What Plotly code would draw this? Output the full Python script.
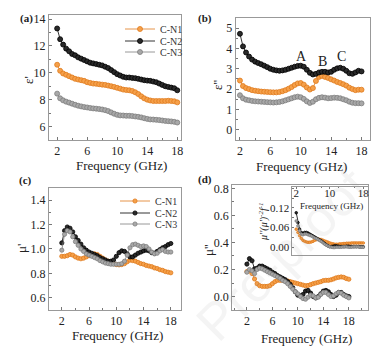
import plotly.graph_objects as go

# ---------------- data ----------------
freq = [2.0, 2.4, 2.8, 3.2, 3.6, 4.0, 4.4, 4.8, 5.2, 5.6, 6.0, 6.4, 6.8, 7.2, 7.6, 8.0,
        8.4, 8.8, 9.2, 9.6, 10.0, 10.4, 10.8, 11.2, 11.6, 12.0, 12.4, 12.8, 13.2, 13.6,
        14.0, 14.4, 14.8, 15.2, 15.6, 16.0, 16.4, 16.8, 17.2, 17.6, 18.0]

series_names = ["C-N1", "C-N2", "C-N3"]

eps1_n1 = [10.6, 10.15, 9.95, 9.85, 9.75, 9.65, 9.55, 9.5, 9.45, 9.4, 9.3, 9.25, 9.2, 9.18, 9.15,
           9.12, 9.1, 9.05, 9.0, 8.95, 8.88, 8.82, 8.75, 8.72, 8.7, 8.65, 8.55, 8.42, 8.25, 8.1,
           8.0, 7.94, 7.9, 7.9, 7.9, 7.9, 7.9, 7.92, 7.9, 7.88, 7.8]
eps1_n2 = [13.3, 12.5, 12.1, 11.8, 11.6, 11.4, 11.3, 11.15, 11.05, 10.95, 10.85, 10.75, 10.7,
           10.65, 10.6, 10.55, 10.45, 10.35, 10.2, 10.05, 9.9, 9.8, 9.7, 9.65, 9.65, 9.62, 9.6,
           9.55, 9.5, 9.45, 9.42, 9.4, 9.35, 9.3, 9.2, 9.1, 9.0, 8.95, 8.9, 8.85, 8.7]
eps1_n3 = [8.45, 8.1, 7.95, 7.85, 7.78, 7.7, 7.62, 7.55, 7.5, 7.45, 7.42, 7.38, 7.35, 7.33, 7.3,
           7.27, 7.22, 7.15, 7.05, 6.95, 6.87, 6.83, 6.82, 6.8, 6.8, 6.78, 6.75, 6.72, 6.68, 6.62,
           6.57, 6.53, 6.52, 6.5, 6.48, 6.45, 6.42, 6.4, 6.38, 6.35, 6.3]

eps2_n1 = [2.42, 2.15, 2.05, 2.0, 1.95, 1.92, 1.9, 1.88, 1.87, 1.86, 1.85, 1.84, 1.84, 1.86, 1.9,
           1.95, 2.02, 2.1, 2.2, 2.28, 2.3, 2.22, 2.08, 1.98, 2.05, 2.4, 2.6, 2.65, 2.6, 2.55,
           2.48, 2.42, 2.35, 2.3, 2.24, 2.17, 2.07, 2.0, 1.95, 1.97, 1.97]
eps2_n2 = [4.72, 4.1, 3.8, 3.6, 3.45, 3.35, 3.28, 3.22, 3.15, 3.08, 3.0, 2.95, 2.92, 2.9, 2.92,
           2.95, 3.0, 3.05, 3.1, 3.14, 3.15, 3.1, 2.95, 2.8, 2.72, 2.75, 2.82, 2.85, 2.85, 2.82,
           2.85, 2.95, 3.02, 3.05, 3.0, 2.9, 2.78, 2.75, 2.82, 2.9, 2.87]
eps2_n3 = [1.7, 1.55, 1.48, 1.45, 1.42, 1.4, 1.39, 1.38, 1.37, 1.36, 1.35, 1.34, 1.35, 1.37, 1.4,
           1.45, 1.5, 1.55, 1.6, 1.63, 1.6, 1.52, 1.4, 1.32, 1.38, 1.5, 1.57, 1.6, 1.58, 1.55,
           1.56, 1.58, 1.57, 1.55, 1.5, 1.45, 1.38, 1.33, 1.31, 1.31, 1.3]

mu1_n1 = [0.94, 0.94, 0.945, 0.955, 0.95, 0.935, 0.925, 0.92, 0.925, 0.935, 0.945, 0.955, 0.96,
          0.955, 0.94, 0.925, 0.91, 0.9, 0.89, 0.88, 0.872, 0.87, 0.872, 0.88, 0.895, 0.908,
          0.905, 0.9, 0.89, 0.88, 0.875, 0.865, 0.86, 0.855, 0.845, 0.84, 0.83, 0.825, 0.815,
          0.81, 0.805]
mu1_n2 = [1.05, 1.15, 1.18, 1.17, 1.14, 1.1, 1.07, 1.04, 1.01, 0.99, 0.975, 0.965, 0.955, 0.945,
          0.93, 0.92, 0.91, 0.9, 0.9, 0.91, 0.94, 0.97, 0.985, 0.98, 0.96, 0.935, 0.935, 0.95,
          0.965, 0.975, 0.985, 0.99, 0.985, 0.97, 0.965, 0.98, 0.995, 1.01, 1.02, 1.035, 1.045]
mu1_n3 = [0.99, 1.12, 1.15, 1.14, 1.1, 1.06, 1.03, 1.0, 0.98, 0.96, 0.95, 0.94, 0.93, 0.92, 0.905,
          0.895, 0.885, 0.88, 0.875, 0.875, 0.875, 0.875, 0.88, 0.9, 0.95, 1.01, 1.035, 1.04,
          1.03, 1.02, 1.025, 1.02, 1.0, 0.975, 0.96, 0.965, 0.985, 0.995, 0.98, 0.975, 0.975]

mu2_n1 = [0.185, 0.19, 0.17, 0.13, 0.095, 0.08, 0.075, 0.075, 0.075, 0.08, 0.095, 0.11, 0.12,
          0.12, 0.12, 0.118, 0.115, 0.11, 0.105, 0.1, 0.095, 0.09, 0.085, 0.08, 0.082, 0.088,
          0.095, 0.1, 0.105, 0.11, 0.118, 0.12, 0.12, 0.124, 0.13, 0.138, 0.142, 0.145, 0.142,
          0.133, 0.128]
mu2_n2 = [0.24, 0.28, 0.265, 0.205, 0.21, 0.225, 0.225, 0.215, 0.205, 0.195, 0.18, 0.17, 0.155,
          0.145, 0.135, 0.125, 0.11, 0.09, 0.065, 0.035, 0.01, 0.005, 0.015, 0.04, 0.045, 0.025,
          0.0, -0.01, 0.0, 0.02, 0.04, 0.045, 0.035, 0.015, 0.0, 0.01, 0.03, 0.03, 0.015, 0.005,
          0.0]
mu2_n3 = [0.18, 0.2, 0.19, 0.17, 0.2, 0.21, 0.205, 0.195, 0.185, 0.175, 0.165, 0.155, 0.145,
          0.135, 0.12, 0.11, 0.095, 0.075, 0.055, 0.035, 0.02, 0.0, -0.015, -0.02, -0.005, 0.01,
          0.005, -0.01, -0.005, 0.015, 0.03, 0.03, 0.015, 0.0, 0.005, 0.02, 0.03, 0.025, 0.01,
          0.0, -0.01]

c0_n1 = [0.055, 0.045, 0.035, 0.027, 0.021, 0.018, 0.016, 0.015, 0.015, 0.016, 0.018, 0.021,
         0.023, 0.024, 0.024, 0.023, 0.021, 0.019, 0.017, 0.015, 0.013, 0.011, 0.01, 0.009,
         0.009, 0.009, 0.01, 0.01, 0.011, 0.011, 0.012, 0.012, 0.012, 0.013, 0.013, 0.013,
         0.013, 0.013, 0.013, 0.013, 0.013]
c0_n2 = [0.105, 0.075, 0.055, 0.045, 0.042, 0.045, 0.045, 0.043, 0.04, 0.037, 0.034, 0.031,
         0.028, 0.025, 0.022, 0.019, 0.015, 0.011, 0.007, 0.004, 0.002, 0.002, 0.003, 0.004,
         0.004, 0.003, 0.002, 0.002, 0.002, 0.002, 0.003, 0.003, 0.002, 0.002, 0.002, 0.002,
         0.002, 0.002, 0.001, 0.001, 0.001]
c0_n3 = [0.08, 0.065, 0.05, 0.04, 0.038, 0.04, 0.04, 0.038, 0.036, 0.034, 0.031, 0.028, 0.026,
         0.023, 0.02, 0.017, 0.013, 0.009, 0.006, 0.003, 0.001, 0.0, -0.001, -0.001, 0.0, 0.0,
         0.0, 0.0, 0.001, 0.001, 0.001, 0.0, 0.0, 0.0, 0.001, 0.001, 0.001, 0.001, 0.0, 0.0, 0.0]

x_ticks = [2, 6, 10, 14, 18]
inset_x_ticks = [2, 10, 18]

# ---------------- style ----------------
FONT = "Liberation Serif"
W, H = 391, 358
fill = {"C-N1": "#F5A04A", "C-N2": "#2A2A2A", "C-N3": "#A8A8A8"}
edge = {"C-N1": "#E07A1C", "C-N2": "#000000", "C-N3": "#7E7E7E"}


def px(xp, yp):
    return xp / W, 1 - yp / H


fig = go.Figure()

# panels (a) and (c) each get three single-entry legends (tight spacing)
legend_ids = {("x", 0): "legend", ("x", 1): "legend2", ("x", 2): "legend3",
              ("x3", 0): "legend4", ("x3", 1): "legend5", ("x3", 2): "legend6"}

panels = [
    ("x", "y", [eps1_n1, eps1_n2, eps1_n3], 5),
    ("x2", "y2", [eps2_n1, eps2_n2, eps2_n3], 5),
    ("x3", "y3", [mu1_n1, mu1_n2, mu1_n3], 4.2),
    ("x4", "y4", [mu2_n1, mu2_n2, mu2_n3], 4.2),
    ("x5", "y5", [c0_n1, c0_n2, c0_n3], 2.6),
]
for xa, ya, ys, ms in panels:
    for i, (name, yv) in enumerate(zip(series_names, ys)):
        leg = legend_ids.get((xa, i))
        fig.add_trace(go.Scatter(
            x=freq, y=yv, xaxis=xa, yaxis=ya, name=name,
            mode="lines+markers",
            line=dict(color=edge[name], width=0.8),
            marker=dict(symbol="circle", size=ms, color=fill[name],
                        line=dict(color=edge[name], width=0.8)),
            showlegend=leg is not None, legend=leg if leg else "legend",
        ))


def xaxis(domain, anchor, rng, ticks=x_ticks, size=12):
    return dict(domain=domain, anchor=anchor, range=rng, tickvals=ticks,
                ticks="inside", ticklen=3, tickcolor="#777", showline=True,
                linecolor="#999", linewidth=1, mirror=True, showgrid=False,
                zeroline=False, automargin=False,
                tickfont=dict(family=FONT, size=size, color="#222"),
                minor=dict(dtick=2, ticks="inside", ticklen=2, tickcolor="#777"))


def yaxis(domain, anchor, rng, dtick, minor, fmt=None, size=12):
    d = dict(domain=domain, anchor=anchor, range=rng, dtick=dtick, tick0=0,
             ticks="inside", ticklen=3, tickcolor="#777", showline=True,
             linecolor="#999", linewidth=1, mirror=True, showgrid=False,
             zeroline=False, automargin=False,
             tickfont=dict(family=FONT, size=size, color="#222"),
             minor=dict(dtick=minor, ticks="inside", ticklen=2, tickcolor="#777"))
    if fmt:
        d["tickformat"] = fmt
    return d


legend_style = dict(xanchor="left", yanchor="middle", bgcolor="rgba(0,0,0,0)",
                    font=dict(family=FONT, size=10, color="#333"), itemwidth=30,
                    borderwidth=0)
legend_pos = {"legend": (120, 29), "legend2": (120, 41), "legend3": (120, 52),
              "legend4": (115, 201), "legend5": (115, 213), "legend6": (115, 224)}
legends = {}
for k, (lx, ly) in legend_pos.items():
    fx, fy = px(lx, ly)
    legends[k] = dict(x=fx, y=fy, **legend_style)

fig.update_layout(
    template="none",
    width=W, height=H, margin=dict(l=0, r=0, t=0, b=0, autoexpand=False),
    paper_bgcolor="white", plot_bgcolor="white",
    font=dict(family=FONT, color="#222"),
    xaxis=xaxis([0.125, 0.463], "y", [0.9, 18.5]),
    yaxis=yaxis([0.609, 0.958], "x", [5.0, 14.3], 2, 1),
    xaxis2=xaxis([0.603, 0.946], "y2", [1.45, 19.1]),
    yaxis2=yaxis([0.609, 0.950], "x2", [-0.5, 5.5], 1, 0.5),
    xaxis3=xaxis([0.125, 0.463], "y3", [0.1, 19.5]),
    yaxis3=yaxis([0.134, 0.475], "x3", [0.5, 1.5], 0.2, 0.1, fmt=".1f"),
    xaxis4=xaxis([0.594, 0.941], "y4", [-0.3, 21]),
    yaxis4=yaxis([0.134, 0.483], "x4", [-0.1, 0.825], 0.2, 0.1, fmt=".1f"),
    xaxis5=dict(domain=[0.748, 0.941], anchor="y5", range=[1.1, 19.1], side="top",
                tickvals=inset_x_ticks, ticks="inside", ticklen=2, tickcolor="#777",
                ticklabelposition="inside", ticklabeloverflow="allow",
                showline=True, linecolor="#999",
                linewidth=1, mirror=True, showgrid=False, zeroline=False,
                automargin=False,
                tickfont=dict(family=FONT, size=11, color="#222"),
                minor=dict(dtick=4, ticks="inside", ticklen=1.5, tickcolor="#777")),
    yaxis5=dict(domain=[0.288, 0.478], anchor="x5", range=[-0.0235, 0.184],
                tickvals=[0.0, 0.06, 0.12], tickformat=".2f", ticks="inside",
                ticklen=2, tickcolor="#777", showline=True, linecolor="#999",
                linewidth=1, mirror=True, showgrid=False, zeroline=False,
                automargin=False,
                tickfont=dict(family=FONT, size=11, color="#222"),
                minor=dict(dtick=0.03, ticks="inside", ticklen=1.5, tickcolor="#777")),
    showlegend=True,
    **legends,
)

# axis titles, panel labels and peak labels
texts = [
    ("Frequency (GHz)", 121, 165, 13, 0),
    ("Frequency (GHz)", 301, 166, 13, 0),
    ("Frequency (GHz)", 118, 335, 13, 0),
    ("Frequency (GHz)", 306, 338, 13, 0),
    ("ε'", 28, 80, 13, -90),
    ("ε''", 217, 85, 13, -90),
    ("μ'", 21, 249, 13, -90),
    ("μ''", 208, 250, 13, -90),
    ("<b>(a)</b>", 26, 18, 11, 0),
    ("<b>(b)</b>", 205, 18, 11, 0),
    ("<b>(c)</b>", 25, 180, 11, 0),
    ("<b>(d)</b>", 205, 179, 11, 0),
    ("A", 301, 56, 14, 0),
    ("B", 322, 62, 14, 0),
    ("C", 341, 57, 14, 0),
    ("Frequency (GHz)", 331, 206, 9, 0),
    ("<i>μ''(μ')<sup>-2</sup>f<sup>-1</sup></i>", 264, 222, 10, -90),
]
for text, xp, yp, size, ang in texts:
    ax, ay = px(xp, yp)
    fig.add_annotation(text=text, x=ax, y=ay, xref="paper", yref="paper",
                       xanchor="center", yanchor="middle",
                       showarrow=False, font=dict(family=FONT, size=size, color="#222"),
                       textangle=ang)

ax, ay = px(282, 255)
fig.add_annotation(text="Pre-proof", x=ax, y=ay, xref="paper", yref="paper",
                   xanchor="center", yanchor="middle",
                   showarrow=False, textangle=-45,
                   font=dict(family="Liberation Sans", size=52,
                             color="rgba(150,150,150,0.10)"))

fig.write_html("out.html", config={"displayModeBar": False},
               post_script="document.body.style.margin='0';")
